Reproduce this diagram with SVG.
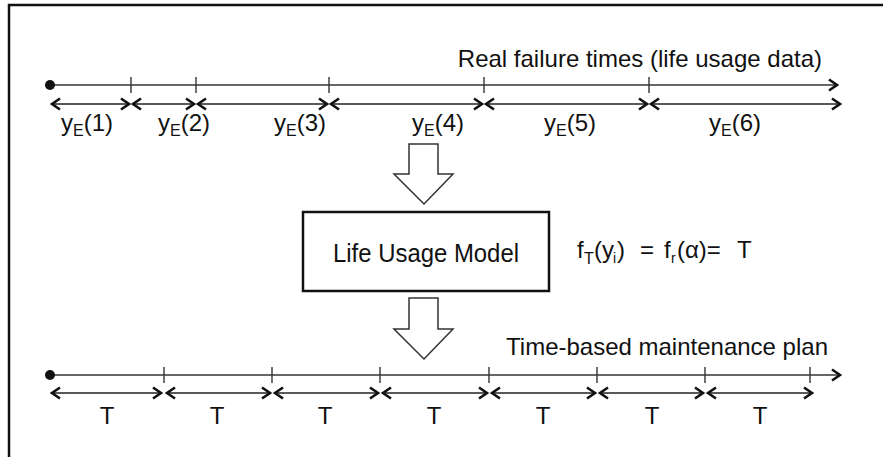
<svg xmlns="http://www.w3.org/2000/svg" width="883" height="457" viewBox="0 0 883 457">
<style>
text{font-family:"Liberation Sans",Arial,sans-serif;fill:#111;font-size:24px}
.ax{stroke:#333;stroke-width:1.6;fill:none}
.tk{stroke:#333;stroke-width:1.4}
.da{stroke:#222;stroke-width:1.6;fill:none;marker-start:url(#ch);marker-end:url(#ch)}
.sub{font-size:16px}
.big{fill:#fff;stroke:#333;stroke-width:1.5}
</style>
<defs>
<marker id="ch" viewBox="0 0 10 12" refX="9" refY="6" markerWidth="10" markerHeight="12" markerUnits="userSpaceOnUse" orient="auto-start-reverse" overflow="visible">
<path d="M1,0.5 L9,6 L1,11.5" fill="none" stroke="#111" stroke-width="2.6" stroke-linejoin="miter"/>
</marker>
<marker id="ah" viewBox="0 0 10 12" refX="9" refY="6" markerWidth="10" markerHeight="12" markerUnits="userSpaceOnUse" orient="auto" overflow="visible">
<path d="M1,0.5 L9,6 L1,11.5" fill="none" stroke="#111" stroke-width="2.6"/>
</marker>
</defs>
<rect x="9" y="5" width="900" height="500" fill="none" stroke="#111" stroke-width="2.5"/>

<g id="top-timeline">
<text x="822" y="67" text-anchor="end">Real failure times (life usage data)</text>
<line class="ax" x1="50" y1="85" x2="837" y2="85" marker-end="url(#ah)"/>
<circle cx="50" cy="85" r="5" fill="#111"/>
<line class="tk" x1="131" y1="77" x2="131" y2="93"/>
<line class="tk" x1="196" y1="77" x2="196" y2="93"/>
<line class="tk" x1="329" y1="77" x2="329" y2="93"/>
<line class="tk" x1="484" y1="77" x2="484" y2="93"/>
<line class="tk" x1="649" y1="77" x2="649" y2="93"/>
<line class="da" x1="52" y1="104" x2="129" y2="104"/>
<line class="da" x1="133" y1="104" x2="194" y2="104"/>
<line class="da" x1="198" y1="104" x2="327" y2="104"/>
<line class="da" x1="331" y1="104" x2="482" y2="104"/>
<line class="da" x1="486" y1="104" x2="647" y2="104"/>
<line class="da" x1="651" y1="104" x2="840" y2="104"/>
<text x="61" y="131">y<tspan class="sub" dy="5">E</tspan><tspan dy="-5">(1)</tspan></text>
<text x="158" y="131">y<tspan class="sub" dy="5">E</tspan><tspan dy="-5">(2)</tspan></text>
<text x="274" y="131">y<tspan class="sub" dy="5">E</tspan><tspan dy="-5">(3)</tspan></text>
<text x="412" y="131">y<tspan class="sub" dy="5">E</tspan><tspan dy="-5">(4)</tspan></text>
<text x="544" y="131">y<tspan class="sub" dy="5">E</tspan><tspan dy="-5">(5)</tspan></text>
<text x="709" y="131">y<tspan class="sub" dy="5">E</tspan><tspan dy="-5">(6)</tspan></text>
</g>

<g id="model">
<rect x="303" y="212" width="246" height="79" fill="#fff" stroke="#111" stroke-width="2.5"/>
<text x="333" y="262" textLength="186" lengthAdjust="spacingAndGlyphs" style="font-size:25px">Life Usage Model</text>
</g>

<g id="equation">
<text x="577" y="258">f</text>
<text x="584" y="264" style="font-size:16px">T</text>
<text x="594" y="258">(y</text>
<text x="613" y="263" style="font-size:14px">i</text>
<text x="617" y="258">)</text>
<text x="640" y="258">=</text>
<text x="664" y="258">f</text>
<text x="671" y="263" style="font-size:14px">r</text>
<text x="677" y="258">(α)=</text>
<text x="737" y="258">T</text>
</g>

<g id="connectors">
<polygon class="big" points="409,144 438,144 438,174 453,174 424,204 394,174 409,174"/>
<polygon class="big" points="409,298 438,298 438,329 453,329 424,359 394,329 409,329"/>
</g>

<g id="bottom-timeline">
<text x="828" y="355" text-anchor="end">Time-based maintenance plan</text>
<line class="ax" x1="50" y1="375" x2="840" y2="375" marker-end="url(#ah)"/>
<circle cx="50" cy="375" r="5" fill="#111"/>
<line class="tk" x1="164" y1="367" x2="164" y2="383"/>
<line class="tk" x1="272" y1="367" x2="272" y2="383"/>
<line class="tk" x1="380" y1="367" x2="380" y2="383"/>
<line class="tk" x1="489" y1="367" x2="489" y2="383"/>
<line class="tk" x1="597" y1="367" x2="597" y2="383"/>
<line class="tk" x1="705" y1="367" x2="705" y2="383"/>
<line class="tk" x1="810" y1="367" x2="810" y2="383"/>
<line class="da" x1="52" y1="393" x2="161" y2="393"/>
<line class="da" x1="167" y1="393" x2="270" y2="393"/>
<line class="da" x1="275" y1="393" x2="378" y2="393"/>
<line class="da" x1="383" y1="393" x2="487" y2="393"/>
<line class="da" x1="492" y1="393" x2="595" y2="393"/>
<line class="da" x1="600" y1="393" x2="703" y2="393"/>
<line class="da" x1="708" y1="393" x2="812" y2="393"/>
<g text-anchor="middle">
<text x="107" y="424">T</text>
<text x="217" y="424">T</text>
<text x="325" y="424">T</text>
<text x="434" y="424">T</text>
<text x="543" y="424">T</text>
<text x="652" y="424">T</text>
<text x="760" y="424">T</text>
</g>
</g>
</svg>
